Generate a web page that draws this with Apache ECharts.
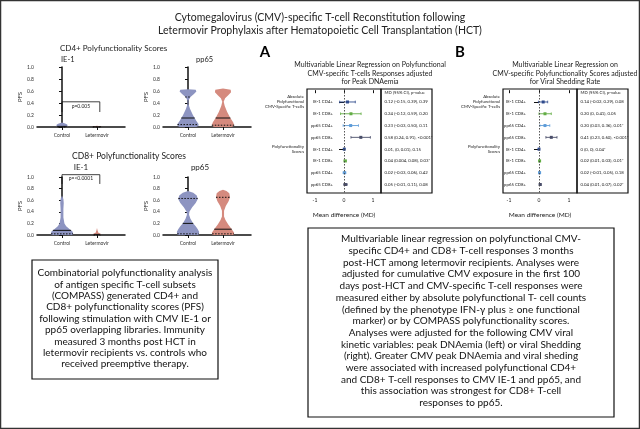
<!DOCTYPE html>
<html><head><meta charset="utf-8">
<script src="https://cdn.jsdelivr.net/npm/echarts@6/dist/echarts.min.js"></script>
<style>html,body{margin:0;padding:0;background:#fff}#c{width:640px;height:429px}</style>
</head><body><div id="c"></div>
<script>
// ---------------- DATA ----------------
const groups = ['Control', 'Letermovir'];
const pfsTicks = [0, 0.2, 0.4, 0.6, 0.8, 1.0];

// violin outlines: [PFS, half-width (in group units)]
const cd4IE1Control    = [[0,0.12],[0.02,0.16],[0.04,0.15],[0.06,0.09],[0.075,0]];
const cd4IE1Letermovir = [[0,0.12],[0.01,0.12],[0.02,0]];
const cd4pp65Control   = [[0,0.24],[0.02,0.3],[0.05,0.3],[0.1,0.24],[0.2,0.14],[0.3,0.06],[0.38,0.015],[0.44,0.015],[0.5,0.07],[0.55,0.17],[0.59,0.24],[0.62,0.22],[0.63,0]];
const cd4pp65Letermovir= [[0,0.26],[0.03,0.32],[0.08,0.29],[0.15,0.21],[0.25,0.12],[0.35,0.05],[0.42,0.02],[0.48,0.06],[0.53,0.15],[0.58,0.23],[0.62,0.22],[0.64,0]];
const cd8IE1Control    = [[0,0.3],[0.03,0.32],[0.06,0.3],[0.1,0.22],[0.15,0.12],[0.2,0.07],[0.3,0.04],[0.45,0.04],[0.55,0.05],[0.62,0.04],[0.68,0]];
const cd8IE1Letermovir = [[0,0.1],[0.02,0.1],[0.04,0.04],[0.08,0.015],[0.12,0]];
const cd8pp65Control   = [[0,0.3],[0.05,0.32],[0.1,0.28],[0.15,0.22],[0.2,0.15],[0.28,0.07],[0.35,0.03],[0.4,0.04],[0.48,0.12],[0.55,0.22],[0.62,0.28],[0.68,0.25],[0.73,0.15],[0.76,0]];
const cd8pp65Letermovir= [[0,0.3],[0.04,0.32],[0.1,0.25],[0.18,0.15],[0.26,0.07],[0.32,0.03],[0.42,0.03],[0.5,0.08],[0.58,0.16],[0.65,0.2],[0.72,0.18],[0.76,0.1],[0.78,0]];

// median and quartile lines per group [Control, Letermovir]
const cd4IE1Median  = [0.01, 0.005];
const cd4IE1Quart   = [[0.0], [0.0]];
const cd4pp65Median = [0.15, 0.15];
const cd4pp65Quart  = [[0.04, 0.5], [0.03]];
const cd8IE1Median  = [0.08, 0.01];
const cd8IE1Quart   = [[0.02], [0.0]];
const cd8pp65Median = [0.2, 0.1];
const cd8pp65Quart  = [[0.02, 0.63], [0.02, 0.65]];

// significance brackets: [x from, x to, top PFS, end PFS]
const cd4IE1Bracket = [0, 1.08, 0.42, 0.25];
const cd4IE1PText = 'p=0.005';
const cd8IE1Bracket = [0, 1.08, 1.04, 0.88];
const cd8IE1PText = 'p=<0.0001';

// forest plots
const forestRows = ['IE-1 CD4+','IE-1 CD8+','pp65 CD4+','pp65 CD8+','IE-1 CD4+','IE-1 CD8+','pp65 CD4+','pp65 CD8+'];
const forestGroups = ['Absolute\nPolyfunctional\nCMV-Specific T-cells', 'Polyfunctionality\nScores'];
const forestTicks = [-1, 0, 1];
const ciHeader = 'MD (95% CI), p-value';

const peakMD = [0.12, 0.24, 0.23, 0.58, 0.01, 0.04, 0.02, 0.05];
const peakLo = [-0.15, -0.12, -0.03, 0.24, 0, 0.004, -0.03, -0.01];
const peakHi = [0.39, 0.59, 0.50, 0.91, 0.01, 0.08, 0.06, 0.11];
const peakText = ['0.12 (-0.15, 0.39), 0.39','0.24 (-0.12, 0.59), 0.20','0.23 (-0.03, 0.50), 0.11','0.58 (0.24, 0.91), <0.001*',
                  '0.01, (0, 0.01), 0.15','0.04 (0.004, 0.08), 0.03*','0.02 (-0.03, 0.06), 0.42','0.05 (-0.01, 0.11), 0.08'];

const shedMD = [0.14, 0.20, 0.20, 0.41, 0, 0.02, 0.02, 0.04];
const shedLo = [-0.02, 0, 0.03, 0.23, 0, 0.01, -0.01, 0.01];
const shedHi = [0.29, 0.41, 0.36, 0.60, 0, 0.03, 0.05, 0.07];
const shedText = ['0.14 (-0.02, 0.29), 0.08','0.20 (0, 0.41), 0.05','0.20 (0.03, 0.36), 0.01*','0.41 (0.23, 0.60), <0.001*',
                  '0 (0, 0), 0.04*','0.02 (0.01, 0.03), 0.01*','0.02 (-0.01, 0.05), 0.18','0.04 (0.01, 0.07), 0.02*'];

const mainTitle = 'Cytomegalovirus (CMV)-specific T-cell Reconstitution following\nLetermovir Prophylaxis after Hematopoietic Cell Transplantation (HCT)';
const titleA = 'Multivariable Linear Regression on Polyfunctional\nCMV-specific T-cells Responses adjusted\nfor Peak DNAemia';
const titleB = 'Multivariable Linear Regression on\nCMV-specific Polyfunctionality Scores adjusted\nfor Viral Shedding Rate';
const leftBoxText = 'Combinatorial polyfunctionality analysis\nof antigen specific T-cell subsets\n(COMPASS) generated CD4+ and\nCD8+ polyfunctionality scores (PFS)\nfollowing stimulation with CMV IE-1 or\npp65 overlapping libraries. Immunity\nmeasured 3 months post HCT in\nletermovir recipients vs. controls who\nreceived preemptive therapy.';
const rightBoxText = 'Multivariable linear regression on polyfunctional CMV-\nspecific CD4+ and CD8+ T-cell responses 3 months\npost-HCT among letermovir recipients. Analyses were\nadjusted for cumulative CMV exposure in the first 100\ndays post-HCT and CMV-specific T-cell responses were\nmeasured either by absolute polyfunctional T- cell counts\n(defined by the phenotype IFN-\u03b3 plus \u2265 one functional\nmarker) or by COMPASS polyfunctionality scores.\nAnalyses were adjusted for the following CMV viral\nkinetic variables: peak DNAemia (left) or viral Shedding\n(right). Greater CMV peak DNAemia and viral sheding\nwere associated with increased polyfunctional CD4+\nand CD8+ T-cell responses to CMV IE-1 and pp65, and\nthis association was strongest for CD8+ T-cell\nresponses to pp65.';

// ---------------- RENDER ----------------
const FONT = 'Lato';
const violinColors = ['#8d94c1', '#d58a7e'];
const rowColors = ['#2f4a8c', '#63ad45', '#5e9cd8', '#4a4e69'];

function halfWidthAt(p, y) {
  for (let i = 0; i < p.length - 1; i++) {
    const [y0, w0] = p[i], [y1, w1] = p[i + 1];
    if (y >= y0 && y <= y1) return w0 + (w1 - w0) * (y - y0) / ((y1 - y0) || 1);
  }
  return 0;
}
function violinRender(profiles, medians, quarts) {
  return function (params, api) {
    const i = params.dataIndex, cx = api.value(0), prof = profiles[i];
    const pts = [];
    prof.forEach(([y, w]) => pts.push(api.coord([cx + w, y])));
    for (let k = prof.length - 1; k >= 0; k--) { const [y, w] = prof[k]; pts.push(api.coord([cx - w, y])); }
    const ch = [{ type: 'polygon', shape: { points: pts }, style: { fill: violinColors[i] } }];
    const add = (y, dashed) => {
      const w = Math.max(halfWidthAt(prof, y), 0.08);
      const a = api.coord([cx - w, y]), b = api.coord([cx + w, y]);
      ch.push({ type: 'line', shape: { x1: a[0], y1: a[1], x2: b[0], y2: b[1] },
        style: { stroke: '#111', lineWidth: 1, lineDash: dashed ? [1.5, 1.5] : null } });
    };
    add(medians[i], false);
    quarts[i].forEach(q => add(q, true));
    return { type: 'group', children: ch };
  };
}

const violinGrids = [
  { left: 37, top: 67, width: 88, height: 60 },
  { left: 163, top: 67, width: 88, height: 60 },
  { left: 37, top: 177, width: 88, height: 58 },
  { left: 163, top: 177, width: 88, height: 58 }
];
const forestGrids = [
  { left: 307, top: 89, width: 74, height: 104 },
  { left: 381, top: 89, width: 51, height: 104 },
  { left: 503, top: 89, width: 74, height: 104 },
  { left: 577, top: 89, width: 51, height: 104 }
];
const grid = violinGrids.concat(forestGrids.map(g => Object.assign({ show: true, borderColor: '#111', borderWidth: 1.2, backgroundColor: 'transparent' }, g)));

const xAxis = [], yAxis = [], series = [];
violinGrids.forEach((g, i) => {
  xAxis.push({ type: 'value', gridIndex: i, min: -0.714, max: 1.8,
    axisLine: { show: true, onZero: false, lineStyle: { color: '#111', width: 1.5 } },
    axisTick: { show: true, customValues: [0, 1], length: 3, lineStyle: { color: '#111' } },
    axisLabel: { customValues: [0, 1], formatter: v => groups[Math.round(v)], fontSize: 5, color: '#333', fontFamily: FONT, margin: 6 },
    splitLine: { show: false } });
  yAxis.push({ type: 'value', gridIndex: i, min: 0, max: 1, interval: 0.2,
    name: 'PFS', nameLocation: 'middle', nameGap: 14, nameRotate: 90,
    nameTextStyle: { fontSize: 6, color: '#333', fontFamily: FONT },
    axisLine: { show: true, lineStyle: { color: '#111', width: 1.5 } },
    axisTick: { show: true, length: 3, lineStyle: { color: '#111' } },
    axisLabel: { formatter: v => v.toFixed(1), fontSize: 5, color: '#333', fontFamily: FONT, margin: 3 },
    splitLine: { show: false } });
});
const vSets = [
  [[cd4IE1Control, cd4IE1Letermovir], cd4IE1Median, cd4IE1Quart],
  [[cd4pp65Control, cd4pp65Letermovir], cd4pp65Median, cd4pp65Quart],
  [[cd8IE1Control, cd8IE1Letermovir], cd8IE1Median, cd8IE1Quart],
  [[cd8pp65Control, cd8pp65Letermovir], cd8pp65Median, cd8pp65Quart]
];
vSets.forEach((s, i) => {
  series.push({ type: 'custom', xAxisIndex: i, yAxisIndex: i, clip: false,
    data: groups.map((g, k) => [k, 0]), encode: { x: 0, y: 1 },
    renderItem: violinRender(s[0], s[1], s[2]) });
});
function bracket(idx, b, txt) {
  series.push({ type: 'line', xAxisIndex: idx, yAxisIndex: idx, clip: false, symbol: 'none', silent: true,
    lineStyle: { color: '#111', width: 0.8 },
    data: [[b[0], b[3]], [b[0], b[2]], [b[1], b[2]], [b[1], b[3]]] });
  series.push({ type: 'custom', xAxisIndex: idx, yAxisIndex: idx, clip: false,
    data: [[(b[0] + b[1]) / 2, b[2] - (b[2] - b[3]) * 0.45]],
    renderItem: (p, api) => { const c = api.coord([api.value(0), api.value(1)]);
      return { type: 'text', x: c[0], y: c[1], style: { text: txt, font: '5px ' + FONT, fill: '#222', align: 'center', verticalAlign: 'middle' } }; } });
}
bracket(0, cd4IE1Bracket, cd4IE1PText);
bracket(2, cd8IE1Bracket, cd8IE1PText);

// forest axes
const fRange = [[-1.276, 1.276], [-1.2, 1.267]];
[0, 1].forEach(f => {
  const pi = 4 + f * 2, ti = 5 + f * 2;
  xAxis.push({ type: 'value', gridIndex: pi, min: fRange[f][0], max: fRange[f][1],
    name: 'Mean difference (MD)', nameLocation: 'middle', nameGap: 18,
    nameTextStyle: { fontSize: 6.5, color: '#222', fontFamily: FONT },
    axisLine: { show: false },
    axisTick: { show: true, customValues: forestTicks, length: 3, lineStyle: { color: '#111' } },
    axisLabel: { customValues: forestTicks, fontSize: 5, color: '#222', fontFamily: FONT, margin: 5 },
    splitLine: { show: false } });
  yAxis.push({ type: 'value', gridIndex: pi, inverse: true, min: -0.1, max: 8.72,
    axisLine: { show: false },
    axisTick: { show: true, customValues: [1, 5], length: 5, lineStyle: { color: '#111' } },
    axisLabel: { customValues: [1, 5], formatter: v => forestGroups[v === 1 ? 0 : 1], fontSize: 4.3, lineHeight: 5, color: '#222', fontFamily: FONT, margin: 3, align: 'right' },
    splitLine: { show: false } });
  xAxis.push({ type: 'value', gridIndex: ti, min: 0, max: 1, show: false, splitLine: { show: false } });
  yAxis.push({ type: 'value', gridIndex: ti, inverse: true, min: -0.1, max: 8.72, show: false, splitLine: { show: false } });

  const md = f ? shedMD : peakMD, lo = f ? shedLo : peakLo, hi = f ? shedHi : peakHi, txt = f ? shedText : peakText;
  series.push({ type: 'custom', xAxisIndex: pi + 0, yAxisIndex: pi, clip: false,
    data: forestRows.map((r, k) => [md[k], k + 1, lo[k], hi[k], k % 4]),
    encode: { x: 0, y: 1 },
    renderItem: (p, api) => {
      const row = api.value(1), c = rowColors[api.value(4)];
      const a = api.coord([api.value(2), row]), b = api.coord([api.value(3), row]), m = api.coord([api.value(0), row]);
      return { type: 'group', children: [
        { type: 'line', shape: { x1: a[0], y1: a[1], x2: b[0], y2: b[1] }, style: { stroke: c, lineWidth: 0.9 } },
        { type: 'line', shape: { x1: a[0], y1: a[1] - 1.3, x2: a[0], y2: a[1] + 1.3 }, style: { stroke: c, lineWidth: 0.8 } },
        { type: 'line', shape: { x1: b[0], y1: b[1] - 1.3, x2: b[0], y2: b[1] + 1.3 }, style: { stroke: c, lineWidth: 0.8 } },
        { type: 'rect', shape: { x: m[0] - 1.5, y: m[1] - 1.5, width: 3, height: 3 }, style: { fill: c } }
      ] };
    },
    markLine: { silent: true, symbol: 'none', label: { show: false },
      lineStyle: { color: '#444', type: [1.5, 1.5], width: 0.9 }, data: [{ xAxis: 0 }] } });
  const labX = f ? -0.43 : -0.38;
  series.push({ type: 'custom', xAxisIndex: pi, yAxisIndex: pi, clip: false,
    data: forestRows.map((r, k) => [labX, k + 1]), encode: { x: 0, y: 1 },
    renderItem: (p, api) => { const c = api.coord([api.value(0), api.value(1)]);
      return { type: 'text', x: c[0], y: c[1], style: { text: forestRows[p.dataIndex], font: '4.3px ' + FONT, fill: '#222', align: 'right', verticalAlign: 'middle' } }; } });
  const tRows = [ciHeader].concat(txt);
  series.push({ type: 'custom', xAxisIndex: ti, yAxisIndex: ti, clip: false,
    data: tRows.map((r, k) => [0.07, k === 0 ? 0.2 : k]), encode: { x: 0, y: 1 },
    renderItem: (p, api) => { const c = api.coord([api.value(0), api.value(1)]);
      return { type: 'text', x: c[0], y: c[1], style: { text: tRows[p.dataIndex], font: '4.3px ' + FONT, fill: '#222', align: 'left', verticalAlign: 'middle' } }; } });
});

function txt(text, x, y, size, opts) {
  return Object.assign({ type: 'text', x: x, y: y, style: Object.assign({ text: text, font: size + 'px ' + FONT, fill: '#222', align: 'center', verticalAlign: 'middle' }, opts || {}) });
}
const graphic = [
  { type: 'rect', shape: { x: 0.5, y: 0.5, width: 639, height: 428 }, style: { fill: 'none', stroke: '#333', lineWidth: 1.5 }, z: 100 },
  txt(mainTitle, 320, 24.5, 10.5, { lineHeight: 13 }),
  txt('CD4+ Polyfunctionality Scores', 60, 48, 8, { align: 'left' }),
  txt('IE-1', 61, 60, 7.5, { align: 'left' }),
  txt('pp65', 196, 60, 7.5, { align: 'left' }),
  txt('CD8+ Polyfunctionality Scores', 129, 156, 8.5),
  txt('IE-1', 81, 167, 8),
  txt('pp65', 200, 167, 8),
  txt('A', 265, 52, 15, { font: 'bold 15px ' + FONT, fill: '#000' }),
  txt('B', 460, 52, 15, { font: 'bold 15px ' + FONT, fill: '#000' }),
  txt(titleA, 370, 73.5, 7, { lineHeight: 8.5 }),
  txt(titleB, 565, 73.5, 7, { lineHeight: 8.5 }),
  { type: 'rect', shape: { x: 32, y: 260, width: 186, height: 119 }, style: { fill: 'none', stroke: '#111', lineWidth: 1.2 } },
  txt(leftBoxText, 125, 318.5, 10, { lineHeight: 11.4, fill: '#111' }),
  { type: 'rect', shape: { x: 308, y: 228, width: 306, height: 189 }, style: { fill: 'none', stroke: '#111', lineWidth: 1.2 } },
  txt(rightBoxText, 461, 321, 10, { lineHeight: 11.7, fill: '#111' })
];

const chart = echarts.init(document.getElementById('c'), null, { renderer: 'canvas' });
chart.setOption({ animation: false, backgroundColor: '#fff', grid, xAxis, yAxis, series, graphic });
</script></body></html>
